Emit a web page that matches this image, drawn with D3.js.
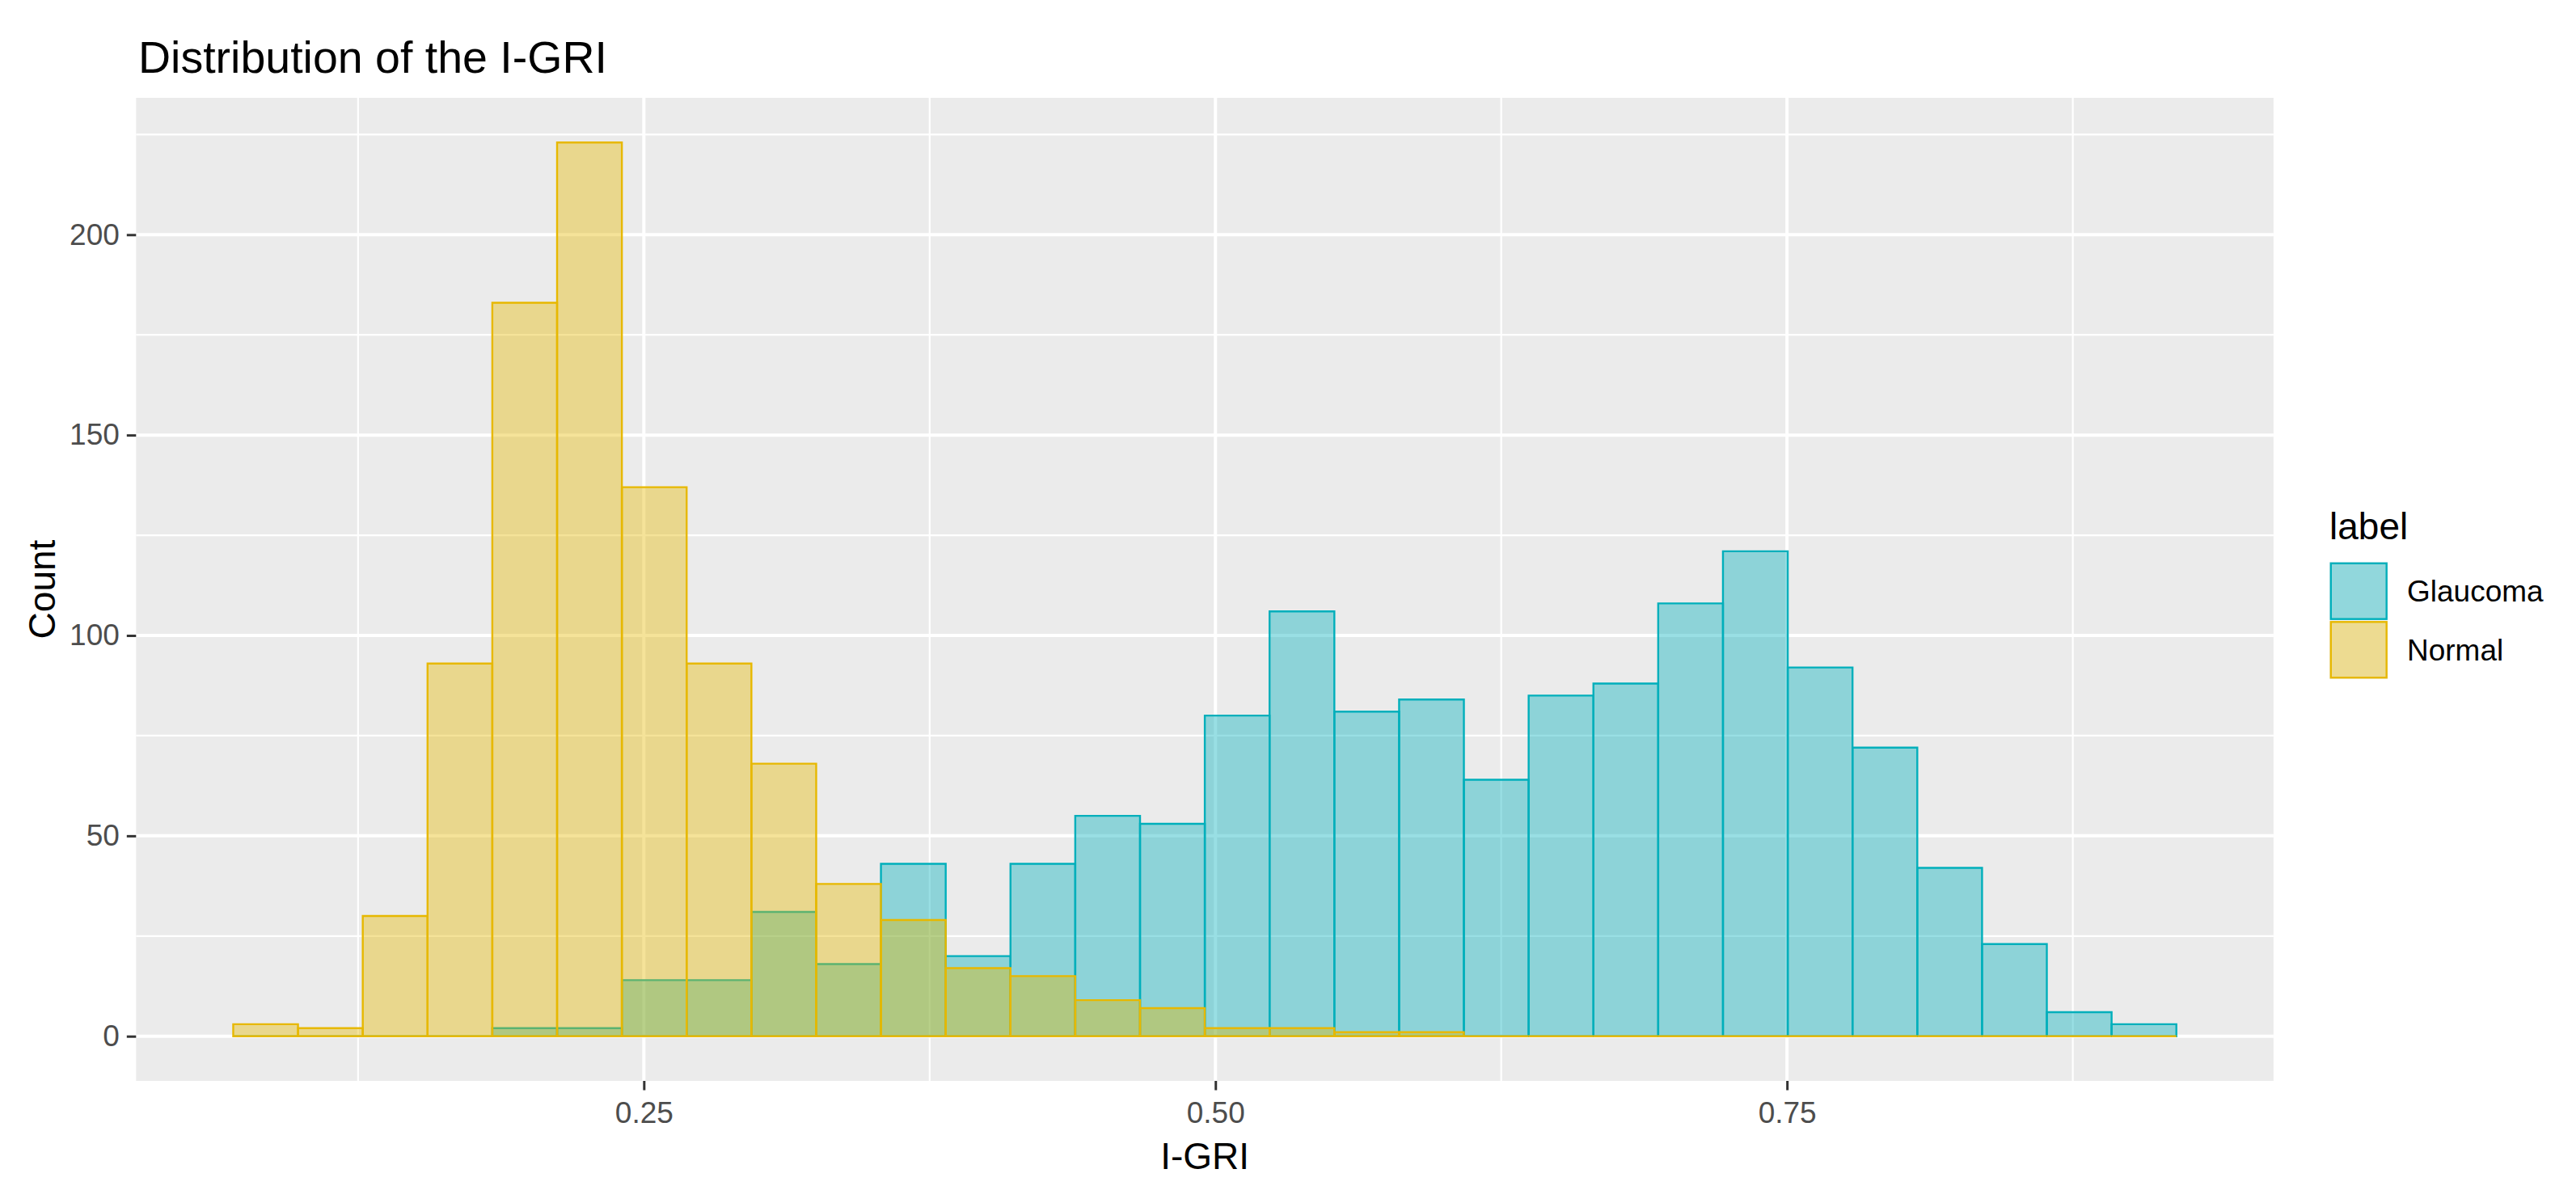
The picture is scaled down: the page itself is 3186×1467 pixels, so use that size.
<!DOCTYPE html>
<html>
<head>
<meta charset="utf-8">
<script src="https://cdnjs.cloudflare.com/ajax/libs/d3/7.8.5/d3.min.js"></script>
<style>
  html, body { margin: 0; padding: 0; background: #ffffff; }
  svg { display: block; font-family: "Liberation Sans", Arial, Helvetica, sans-serif; }
</style>
</head>
<body>
<svg id="chart" width="3186" height="1467"></svg>
<script>
// ---------------- data ----------------
const groups = ["Glaucoma", "Normal"];
const binStart = 0.0704;      // left edge of first bin (I-GRI)
const binWidth = 0.02833;     // width of each of the 30 bins
const glaucomaCounts = [0, 0, 0, 0, 2, 2, 14, 14, 31, 18, 43, 20, 43, 55, 53,
                        80, 106, 81, 84, 64, 85, 88, 108, 121, 92, 72, 42, 23, 6, 3];
const normalCounts   = [3, 2, 30, 93, 183, 223, 137, 93, 68, 38, 29, 17, 15, 9, 7,
                        2, 2, 1, 1, 0, 0, 0, 0, 0, 0, 0, 0, 0, 0, 0];
const xTicks = [0.25, 0.50, 0.75];
const xTickLabels = ["0.25", "0.50", "0.75"];
const xMinor = [0.125, 0.375, 0.625, 0.875];
const yTicks = [0, 50, 100, 150, 200];
const yMinor = [25, 75, 125, 175, 225];
const colors = { Glaucoma: "#00AFBB", Normal: "#E7B800" };
const titleText = "Distribution of the I-GRI";
const xTitle = "I-GRI";
const yTitle = "Count";
const legendTitle = "label";

// ---------------- layout ----------------
const panel = { left: 168.3, right: 2811.9, top: 121, bottom: 1337 };
const svg = d3.select("#chart");

const nBins = glaucomaCounts.length;
const dataMin = binStart, dataMax = binStart + nBins * binWidth;
const xPad = (dataMax - dataMin) * 0.05;
const yMax = d3.max([...glaucomaCounts, ...normalCounts]);
const yPad = yMax * 0.05;

const x = d3.scaleLinear().domain([dataMin - xPad, dataMax + xPad]).range([panel.left, panel.right]);
const y = d3.scaleLinear().domain([-yPad, yMax + yPad]).range([panel.bottom, panel.top]);

// panel background
svg.append("rect")
  .attr("x", panel.left).attr("y", panel.top)
  .attr("width", panel.right - panel.left).attr("height", panel.bottom - panel.top)
  .attr("fill", "#EBEBEB");

const grid = svg.append("g");
// minor grid
grid.selectAll(".xm").data(xMinor).enter().append("line")
  .attr("x1", d => x(d)).attr("x2", d => x(d)).attr("y1", panel.top).attr("y2", panel.bottom)
  .attr("stroke", "#ffffff").attr("stroke-width", 2.2);
grid.selectAll(".ym").data(yMinor).enter().append("line")
  .attr("y1", d => y(d)).attr("y2", d => y(d)).attr("x1", panel.left).attr("x2", panel.right)
  .attr("stroke", "#ffffff").attr("stroke-width", 2.2);
// major grid
grid.selectAll(".xM").data(xTicks).enter().append("line")
  .attr("x1", d => x(d)).attr("x2", d => x(d)).attr("y1", panel.top).attr("y2", panel.bottom)
  .attr("stroke", "#ffffff").attr("stroke-width", 4);
grid.selectAll(".yM").data(yTicks).enter().append("line")
  .attr("y1", d => y(d)).attr("y2", d => y(d)).attr("x1", panel.left).attr("x2", panel.right)
  .attr("stroke", "#ffffff").attr("stroke-width", 4);

// ---------------- bars ----------------
const series = [
  { name: "Glaucoma", counts: glaucomaCounts },
  { name: "Normal", counts: normalCounts }
];
series.forEach(s => {
  const bins = s.counts.map((c, i) => ({ x0: binStart + i * binWidth, x1: binStart + (i + 1) * binWidth, c }));
  svg.append("g").selectAll("path").data(bins).enter().append("path")
    .attr("d", d => {
      const xa = x(d.x0), xb = x(d.x1), y0 = y(0), y1 = y(d.c);
      return `M${xa},${y0}L${xa},${y1}L${xb},${y1}L${xb},${y0}Z`;
    })
    .attr("fill", colors[s.name]).attr("fill-opacity", 0.4)
    .attr("stroke", colors[s.name]).attr("stroke-width", 2.4)
    .attr("stroke-linejoin", "miter");
});

// ---------------- axes ----------------
const xAxis = d3.axisBottom(x).tickValues(xTicks).tickFormat((d, i) => xTickLabels[i])
  .tickSize(11.5).tickPadding(14);
const gx = svg.append("g").attr("transform", `translate(0,${panel.bottom})`).call(xAxis);
gx.select(".domain").remove();
gx.selectAll(".tick line").attr("stroke", "#333333").attr("stroke-width", 3);
gx.selectAll(".tick text").attr("fill", "#4D4D4D").attr("font-size", 37)
  .attr("font-family", "Liberation Sans, Arial, sans-serif");

const yAxis = d3.axisLeft(y).tickValues(yTicks).tickSize(11.5).tickPadding(9);
const gy = svg.append("g").attr("transform", `translate(${panel.left},0)`).call(yAxis);
gy.select(".domain").remove();
gy.selectAll(".tick line").attr("stroke", "#333333").attr("stroke-width", 3);
gy.selectAll(".tick text").attr("fill", "#4D4D4D").attr("font-size", 37)
  .attr("font-family", "Liberation Sans, Arial, sans-serif");

// titles
svg.append("text").attr("x", 171).attr("y", 89.5)
  .attr("font-size", 55.5).attr("fill", "#000").text(titleText);
svg.append("text").attr("x", (panel.left + panel.right) / 2).attr("y", 1446)
  .attr("text-anchor", "middle").attr("font-size", 46).attr("fill", "#000").text(xTitle);
svg.append("text")
  .attr("transform", `translate(68,${(panel.top + panel.bottom) / 2}) rotate(-90)`)
  .attr("text-anchor", "middle").attr("font-size", 46).attr("fill", "#000").text(yTitle);

// ---------------- legend ----------------
const lg = svg.append("g");
lg.append("text").attr("x", 2881).attr("y", 667).attr("font-size", 46).attr("fill", "#000").text(legendTitle);
const keySize = 72.5;
groups.forEach((g, i) => {
  const ky = 695 + i * keySize;
  lg.append("rect").attr("x", 2881).attr("y", ky).attr("width", keySize).attr("height", keySize).attr("fill", "#F2F2F2");
  lg.append("rect").attr("x", 2881 + 1.8).attr("y", ky + 1.8)
    .attr("width", keySize - 3.6).attr("height", keySize - 3.6)
    .attr("fill", colors[g]).attr("fill-opacity", 0.4)
    .attr("stroke", colors[g]).attr("stroke-width", 2.4);
  lg.append("text").attr("x", 2977).attr("y", ky + keySize / 2 + 13)
    .attr("font-size", 37).attr("fill", "#000").text(g);
});
</script>
</body>
</html>
